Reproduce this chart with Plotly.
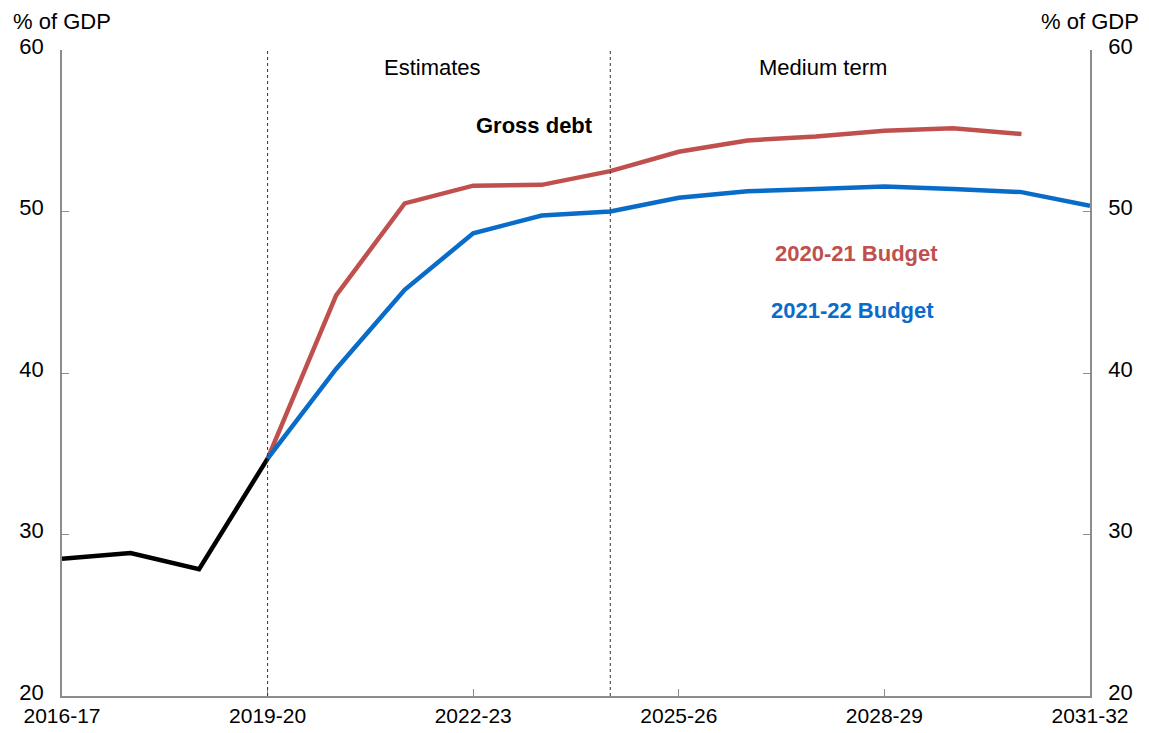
import plotly.graph_objects as go

years = ["2016-17", "2017-18", "2018-19", "2019-20", "2020-21", "2021-22",
         "2022-23", "2023-24", "2024-25", "2025-26", "2026-27", "2027-28",
         "2028-29", "2029-30", "2030-31", "2031-32"]

# Actual outcomes to 2019-20
actual = [28.5, 28.85, 27.85, 34.7]
# Projections published in each budget (start from the 2019-20 outcome)
budget_2020_21 = [34.7, 44.8, 50.5, 51.6, 51.65, 52.5, 53.7, 54.4, 54.65, 55.0, 55.15, 54.8]
budget_2021_22 = [34.7, 40.25, 45.15, 48.65, 49.75, 50.0, 50.85, 51.25, 51.4, 51.55, 51.4, 51.2, 50.35]

tick_years = ["2016-17", "2019-20", "2022-23", "2025-26", "2028-29", "2031-32"]
y_ticks = [20, 30, 40, 50, 60]

idx = {y: i for i, y in enumerate(years)}
RED = "#C0504D"
BLUE = "#0A6CC9"
FONT = "Liberation Sans, Arial, sans-serif"
FS = 22

fig = go.Figure()
fig.add_trace(go.Scatter(x=[idx[y] for y in years[3:3 + len(budget_2020_21)]], y=budget_2020_21,
                         mode="lines", line=dict(color=RED, width=4.5), showlegend=False))
fig.add_trace(go.Scatter(x=[idx[y] for y in years[3:3 + len(budget_2021_22)]], y=budget_2021_22,
                         mode="lines", line=dict(color=BLUE, width=4.5), showlegend=False))
fig.add_trace(go.Scatter(x=list(range(len(actual))), y=actual,
                         mode="lines", line=dict(color="black", width=4.5), showlegend=False))
# Invisible trace to carry the right-hand axis
fig.add_trace(go.Scatter(x=[0], y=[20], yaxis="y2", mode="markers",
                         marker=dict(opacity=0), showlegend=False, hoverinfo="skip"))

# Period separators
for yr in ["2019-20", "2024-25"]:
    fig.add_shape(type="line", x0=idx[yr], x1=idx[yr], xref="x", y0=0, y1=1, yref="paper",
                  line=dict(color="#333333", width=1, dash="dot"))

axis_common = dict(showline=True, linecolor="#8c8c8c", linewidth=1.5,
                   ticks="inside", ticklen=7, tickcolor="#8c8c8c",
                   showgrid=False, zeroline=False, automargin=False)
fig.update_layout(
    width=1149, height=733,
    margin=dict(l=62, r=59, t=50, b=37),
    plot_bgcolor="white", paper_bgcolor="white",
    font=dict(family=FONT, size=FS, color="black"),
    xaxis=dict(range=[0, len(years) - 1], tickmode="array",
               tickvals=[idx[y] for y in tick_years], ticktext=tick_years,
               tickfont=dict(size=21), ticklabelstandoff=0, **axis_common),
    yaxis=dict(range=[20, 60], tickvals=y_ticks, ticklabelstandoff=12,
               ticklabelshift=-4, **axis_common),
    yaxis2=dict(range=[20, 60], tickvals=y_ticks, overlaying="y", side="right",
                ticklabelstandoff=12, ticklabelshift=-4, **axis_common),
)

ann = [
    dict(text="% of GDP", x=0, xref="paper", xanchor="center", y=1.0, yref="paper",
         yanchor="bottom", yshift=14),
    dict(text="% of GDP", x=1, xref="paper", xanchor="center", y=1.0, yref="paper",
         yanchor="bottom", yshift=14),
    dict(text="Estimates", x=5.4, y=58.9),
    dict(text="Medium term", x=11.1, y=58.9),
    dict(text="<b>Gross debt</b>", x=6.9, y=55.3),
    dict(text="<b>2020-21 Budget</b>", x=11.6, y=47.4, font=dict(size=FS, color=RED)),
    dict(text="<b>2021-22 Budget</b>", x=11.53, y=43.9, font=dict(size=FS, color=BLUE)),
]
for a in ann:
    a.setdefault("xref", "x")
    a.setdefault("yref", "y")
    a["showarrow"] = False
    fig.add_annotation(**a)

fig.write_html("out.html")
